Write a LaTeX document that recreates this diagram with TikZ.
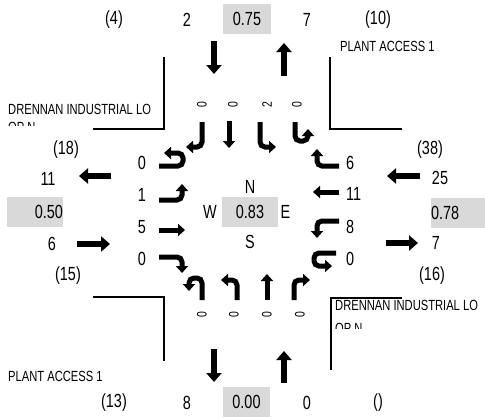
\documentclass[tikz,border=0pt]{standalone}
\usepackage{fontspec}
\setmainfont{Liberation Sans}[FakeStretch=0.76]
\usetikzlibrary{arrows.meta,positioning}
\definecolor{boxgray}{RGB}{217,217,217}

\begin{document}
\begin{tikzpicture}[x=1pt,y=-1pt,node distance=30pt,on grid,
  big/.style={font=\fontsize{19}{21}\selectfont,inner sep=0pt},
  small/.style={font=\fontsize{14.7}{16}\selectfont,inner sep=0pt,anchor=west},
  lanelbl/.style={font=\fontsize{13.7}{15}\selectfont,inner sep=0pt,rotate=90},
  valbox/.style={big,fill=boxgray,minimum height=30pt},
  lane/.style={line width=5pt,rounded corners=5pt,-{Triangle[width=12pt,length=7pt]}},
  flow/.style={line width=6.5pt,-{Triangle[width=15pt,length=9pt]}},
  curb/.style={line width=1.6pt}]

  \useasboundingbox (0,0) rectangle (485,418);

  % north leg
  \node[big]				(nl)	at (114,20)	{(4)};
  \node[big]				(nin)	at (187,20)	{2};
  \node[valbox,minimum width=48pt]	(nvc)	at (247,18.5)	{0.75};
  \node[big]				(nout)	at (307,20)	{7};
  \node[big]				(nr)	at (378,20)	{(10)};

  % south leg
  \node[big]				(sl)	at (114,403)	{(13)};
  \node[big]				(sout)	at (187,403)	{8};
  \node[valbox,minimum width=47pt]	(svc)	at (246.5,402)	{0.00};
  \node[big]				(sin)	at (307,403)	{0};
  \node[big]				(sr)	at (378,403)	{()};

  % west leg
  \node[big]				(wl)	at (66,150)	{(18)};
  \node[big]				(wout)	at (48,179)	{11};
  \node[valbox,text width=56pt,align=right]	(wvc)	at (35,212)	{0.50};
  \node[big]				(win)	at (52,244)	{6};
  \node[big]				(wr)	at (68,276)	{(15)};

  % east leg
  \node[big]				(el)	at (430,150)	{(38)};
  \node[big]				(ein)	at (440,178)	{25};
  \node[valbox,text width=54pt,align=left]	(evc)	at (458,212.5)	{0.78};
  \node[big]				(eout)	at (436,243)	{7};
  \node[big]				(er)	at (432,276)	{(16)};

  % centre
  \node[valbox,minimum width=56pt]	(ctr)	at (250,211.5)	{0.83};
  \node[big]				(cn)	[above=24.5pt of ctr]	{N};
  \node[big]				(cs)	[below=30.5pt of ctr]	{S};
  \node[big]				(cw)	[left=40pt of ctr]	{W};
  \node[big]				(ce)	[right=35.5pt of ctr]	{E};

  % lane volumes
  \node[lanelbl]	(sb1)	at (202,105)	{0};
  \node[lanelbl]	(sb2)	at (233,105)	{0};
  \node[lanelbl]	(sb3)	at (267,105)	{2};
  \node[lanelbl]	(sb4)	at (297,105)	{0};
  \node[lanelbl]	(nb1)	at (202,315)	{0};
  \node[lanelbl]	(nb2)	at (234,315)	{0};
  \node[lanelbl]	(nb3)	at (267,315)	{0};
  \node[lanelbl]	(nb4)	at (300,315)	{0};
  \node[big,anchor=east]	(eb1)	at (146,163)	{0};
  \node[big,anchor=east]	(eb2)	at (146,195)	{1};
  \node[big,anchor=east]	(eb3)	at (146,227)	{5};
  \node[big,anchor=east]	(eb4)	at (146,259)	{0};
  \node[big,anchor=west]	(wb1)	at (346,163)	{6};
  \node[big,anchor=west]	(wb2)	at (346,194)	{11};
  \node[big,anchor=west]	(wb3)	at (346,227)	{8};
  \node[big,anchor=west]	(wb4)	at (346,259)	{0};

  % street names
  \node[small]	(nwname)	at (8,109)	{DRENNAN INDUSTRIAL LO};
  \begin{scope}
    \clip (0,118) rectangle (160,125.5);
    \node[small]	(nwname2)	at (8,127)	{OP N};
  \end{scope}
  \node[small]	(sename)	at (335,305)	{DRENNAN INDUSTRIAL LO};
  \begin{scope}
    \clip (333,318) rectangle (485,328);
    \node[small]	(sename2)	at (335,328)	{OP N};
  \end{scope}
  \node[small]	(nename)	at (340,46)	{PLANT ACCESS 1};
  \node[small]	(swname)	at (8,376)	{PLANT ACCESS 1};

  % curb corners
  \draw[curb] (93,129) -- (164,129) -- (164,57);
  \draw[curb] (330,57) -- (330,129) -- (402,129);
  \draw[curb] (93,297) -- (164,297) -- (164,361);
  \draw[curb] (331,370) -- (331,298) -- (402,298);

  % approach and departure arrows
  \draw[flow] (214,41) -- (214,74);
  \draw[flow] (284,76) -- (284,43);
  \draw[flow] (111,176) -- (79,176);
  \draw[flow] (77,244) -- (110,244);
  \draw[flow] (420,176) -- (387,176);
  \draw[flow] (386,243) -- (418,243);
  \draw[flow] (214,349) -- (214,382);
  \draw[flow] (284,383) -- (284,351);

  % southbound lanes
  \draw[lane] (202,122) -- (202,147) -- (186,147);
  \draw[lane] (229,121) -- (229,148);
  \draw[lane] (260,122) -- (260,147) -- (276,147);
  \draw[lane] (295,122) -- (295,141) -- (308,141) -- (308,129);

  % eastbound lanes
  \draw[lane] (159,166) -- (183,166) -- (183,153) -- (164,153);
  \draw[lane] (159,200) -- (182,200) -- (182,184);
  \draw[lane] (159,230) -- (185,230);
  \draw[lane] (159,257) -- (182,257) -- (182,273);

  % westbound lanes
  \draw[lane] (339,166) -- (317,166) -- (317,149);
  \draw[lane] (339,192) -- (313,192);
  \draw[lane] (339,221) -- (317,221) -- (317,238);
  \draw[lane] (336,253) -- (314,253) -- (314,266) -- (332,266);

  % northbound lanes
  \draw[lane] (202,300) -- (202,278) -- (189,278) -- (189,291);
  \draw[lane] (237,300) -- (237,280) -- (221,280);
  \draw[lane] (267,300) -- (267,274);
  \draw[lane] (294,300) -- (294,280) -- (310,280);

\end{tikzpicture}
\end{document}
